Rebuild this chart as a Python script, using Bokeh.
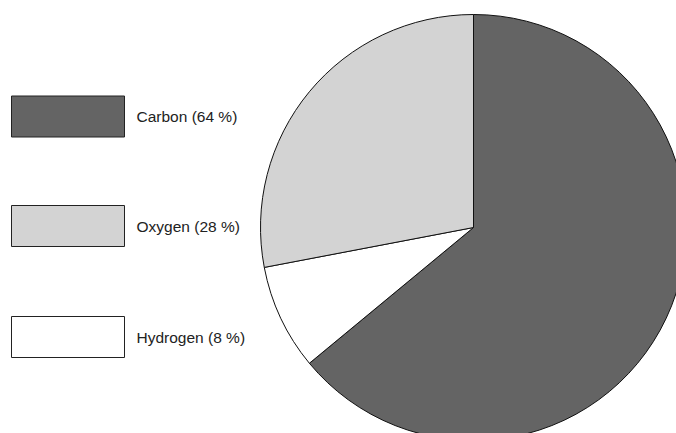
import math
from bokeh.plotting import figure
from bokeh.models import ColumnDataSource, Range1d
from bokeh.core.properties import value
from bokeh.embed import file_html
from bokeh.resources import INLINE

# Data
elements = ["Carbon", "Oxygen", "Hydrogen"]
percent = [64, 28, 8]
colors = ["#646464", "#d3d3d3", "#ffffff"]

# Pie order (clockwise from 12 o'clock): Carbon, Hydrogen, Oxygen
pie_order = ["Carbon", "Hydrogen", "Oxygen"]

W, H = 676, 433
p = figure(width=W, height=H, output_backend="svg", toolbar_location=None,
           x_range=Range1d(0, W), y_range=Range1d(0, H),
           min_border=0, outline_line_color=None)
p.axis.visible = False
p.grid.visible = False
p.background_fill_color = "white"

# wedges
starts, ends, wcolors = [], [], []
cum = 0.0
lookup = dict(zip(elements, percent))
cmap = dict(zip(elements, colors))
for name in pie_order:
    frac = lookup[name] / sum(percent)
    a0 = math.pi / 2 - 2 * math.pi * cum
    a1 = math.pi / 2 - 2 * math.pi * (cum + frac)
    starts.append(a0)
    ends.append(a1)
    wcolors.append(cmap[name])
    cum += frac

src = ColumnDataSource(dict(start=starts, end=ends, color=wcolors))
cx, cy, r = 473, 206, 213
p.wedge(x=cx, y=cy, radius=r, start_angle="start", end_angle="end",
        direction="clock", fill_color="color", line_color="#111111",
        line_width=1, source=src)

# legend
ly = [317, 207.5, 96.5]
labels = [f"{n} ({v} %)" for n, v in zip(elements, percent)]
lsrc = ColumnDataSource(dict(y=ly, color=colors, label=labels))
p.rect(x=67.5, y="y", width=113, height=41, fill_color="color",
       line_color="#222222", line_width=1, source=lsrc)
p.text(x=136, y="y", text="label", text_font=value("Liberation Sans"),
       text_font_size="15.5px", text_baseline="middle", text_color="#222222",
       source=lsrc)

open("out.html", "w").write(file_html(p, INLINE))
